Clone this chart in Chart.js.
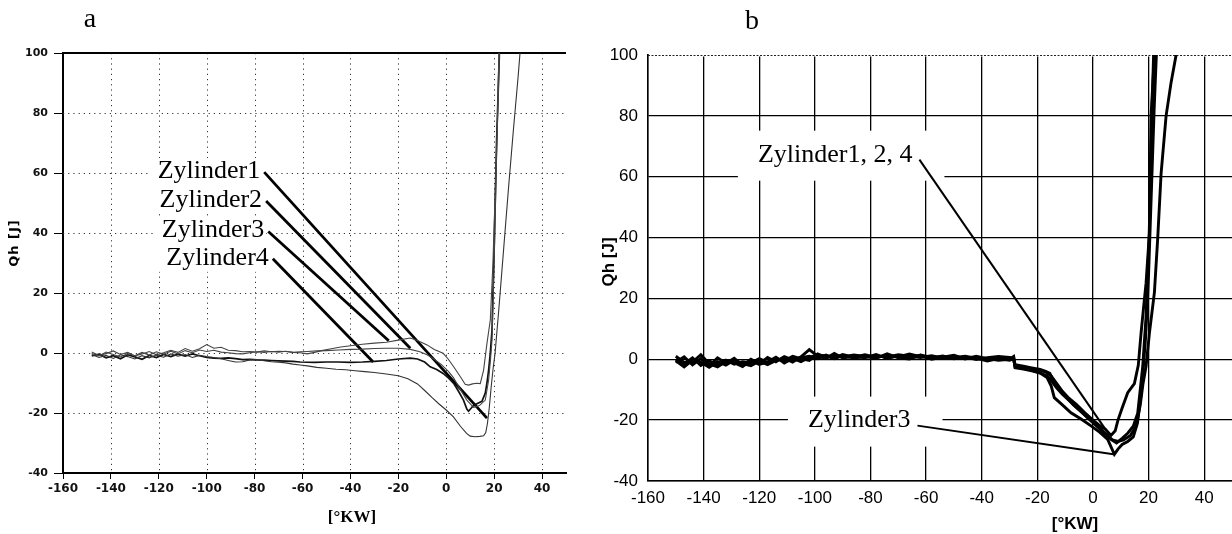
<!DOCTYPE html>
<html><head><meta charset="utf-8">
<script src="https://cdn.jsdelivr.net/npm/chart.js@4.4.0/dist/chart.umd.min.js"></script>
<style>
html,body{margin:0;padding:0;background:#fff;width:1232px;height:534px;overflow:hidden}
#ca{position:absolute;left:0;top:0}
#cb{position:absolute;left:600px;top:0}
</style></head><body>
<canvas id="ca" width="600" height="534"></canvas>
<canvas id="cb" width="632" height="534"></canvas>
<script>
// ---------- Panel a data ----------
const aXTicks = [-160,-140,-120,-100,-80,-60,-40,-20,0,20,40];
const aYTicks = [-40,-20,0,20,40,60,80,100];
const aPreX = [-148,-145,-142,-139,-136,-133,-130,-127,-124,-121,-118,-115,-112,-109,-106,-103,-100,-97,-94,-91,-88,-85,-82,-79,-76,-73,-70,-67,-64,-61];
const a1PreY = [-0.5,-1.5,-0.8,-1.8,-0.6,-1.2,-2,-0.9,-1.6,-0.7,-1.4,-0.3,-1.1,-0.5,-1.5,-0.8,-1.2,-1.5,-1.9,-2.5,-3,-2.9,-2.3,-2.2,-2.6,-2.9,-3.1,-3.3,-3.7,-4];
const a1PostX = [-58,-54,-50,-46,-42,-38,-34,-30,-25,-20,-16,-12,-9,-6,-3,0,3,6,8.5,10,12,14,15.6,16.5,17.2,18,18.8,19.6,20.4,22,24,26,28,30,30.8];
const a1PostY = [-4.3,-4.8,-5.1,-5.4,-5.6,-5.9,-6.2,-6.5,-7,-7.6,-8.6,-10.3,-12.5,-14.8,-17,-19,-21.3,-24.5,-26.8,-27.7,-27.9,-27.8,-27.6,-26.5,-23.5,-18,-11,-5,0,15,35,55,74,92,100];
const a2PreY = [-0.2,-1,0.3,-0.5,-1.3,-0.2,-0.9,0.2,-0.7,0.4,-0.4,0.6,-0.3,0.8,0.1,1,0.5,0.9,0.3,0.1,-0.2,-0.3,0.1,0.4,0.2,0.5,0.3,0.6,0.2,0.4];
const a2PostX = [-58,-54,-50,-45,-40,-35,-30,-25,-20,-15,-11,-8,-5,-2,1,3,6,8.6,11.4,13,14.2,16.3,17.7,18.5,19.1,20,21,22];
const a2PostY = [0.5,0.7,0.8,1,1.2,1.3,1.5,1.6,1.6,1.2,0.4,-0.6,-2.1,-3.9,-6.2,-8.2,-12.3,-15.7,-18.1,-17.8,-17.3,-15.7,-9,-2,4.3,30,65,100];
const a3PreY = [0.3,-0.8,-0.2,0.7,-0.5,0.2,-1,-0.3,0.5,-0.6,0.1,0.9,0.2,1.5,0.6,1.4,2.8,1.6,1.9,0.9,0.8,0.4,0.5,0.3,0.7,0.4,0.6,0.5,0.2,0.1];
const a3PostX = [-58,-55,-52,-48,-44,-40,-35,-30,-25,-20,-15,-12,-8,-5,-1.3,0.8,3.1,5.9,7.9,9.3,11,12.5,14.2,15.6,17,18.4,19.5,20.5,21.5,22.2];
const a3PostY = [-0.3,0.2,0.8,1.4,2,2.4,2.9,3.3,3.6,4.3,5,4.2,2.7,1.2,-0.1,-2,-4.6,-7.9,-10.4,-10.7,-10.3,-10.1,-10.2,-5.7,3.2,11,30,55,80,100];
const a4PreY = [-1,-0.4,-1.6,-0.9,-1.9,-0.6,-1.3,-2.1,-0.8,-1.5,-0.5,-1.2,-0.4,-1,-0.3,-0.9,-1.5,-1.7,-1.8,-1.6,-1.9,-2.2,-2.1,-2.3,-2.4,-2.5,-2.6,-2.7,-2.8,-3];
const a4PostX = [-55,-50,-45,-40,-35,-30,-25,-20,-15,-12,-9,-6.7,-4,-1.3,1,3.1,5,7.2,8.6,9.3,10.2,11.4,13,14.9,16.3,17,17.7,18.4,19.1,20,21,22.2];
const a4PostY = [-3.1,-3,-3,-3.1,-3,-2.8,-2.5,-2,-1.7,-2,-3,-4.6,-5.5,-6.8,-8.4,-10.1,-12.6,-15.7,-18.7,-19.4,-18.6,-17.5,-16.8,-16.1,-13.4,-10,-5.7,0,7.6,35,70,100];
const aCallLabels = ['Zylinder1','Zylinder2','Zylinder3','Zylinder4'];
const aCallX0 = [-76,-75.2,-74.3,-72.4];
const aCallY0 = [60.3,50.7,40.5,31.4];
const aCallX1 = [17,-15,-24,-30.5];
const aCallY1 = [-21.7,1.6,4.1,-3];

// ---------- Panel b data ----------
const bXTicks = [-160,-140,-120,-100,-80,-60,-40,-20,0,20,40];
const bYTicks = [-40,-20,0,20,40,60,80,100];
const bPreX = [-150,-147,-144,-141,-138,-135,-132,-129,-126,-123,-120,-117,-114,-111,-108,-105,-102,-99,-96,-93,-90,-86,-82,-78,-74,-70,-66,-62,-58,-54,-50,-46,-42,-38,-34,-30];
const b1PreY = [0,-1.5,0.5,-2,-0.5,-1.8,-0.3,-1.6,-0.8,-1.2,0.2,-1,0.3,-0.6,1,0.2,-0.4,1.8,0.6,1.2,0.8,1.4,0.9,1.1,0.7,1.5,1,0.6,1.2,0.4,0.9,0.3,0.6,-0.2,0.4,0.3];
const b1PostX = [-28.5,-28,-25,-22,-19,-17,-15,-13,-11,-9,-6,-3,0,2,4.5,6.5,8,9,10.5,12.5,14.9,16.3,17.3,18.2,19.1,20.3,20.9,22.1];
const b1PostY = [-0.2,-2.2,-2.6,-3.1,-3.6,-4.2,-5.5,-8,-10.5,-12.5,-14.8,-17.5,-20,-21.5,-23,-25,-23.5,-20,-16,-11,-8,-2,8.6,17,25,41.5,80,100];
const b2PreY = [-1,0.8,-1.8,0.2,-2.2,0.5,-1.3,0.3,-2,0,-1.5,0.6,-0.8,0.9,-0.2,0.5,1,0.2,1.4,0.5,1.6,0.7,1.5,0.6,1.3,0.8,1.7,0.9,0.5,1.1,0.2,0.8,-0.1,0.5,0.9,0.6];
const b2PostX = [-28.5,-28,-25,-22,-19,-16.5,-15,-13,-11,-8,-5,-2,1,4,6.5,8.5,10.5,12.5,14.5,16.1,17.9,19.1,20.2,21.2,21.8];
const b2PostY = [0.4,-2.8,-3.2,-3.8,-4.5,-5.5,-7,-9.5,-11.5,-14,-16.5,-19,-21.5,-24,-26.3,-27.5,-26,-24.3,-22,-17.7,-2.3,14,40,80,100];
const b3PreY = [1,-1,-0.9,1.5,-1.5,-2.5,-0.7,-1.1,-2.4,-0.4,-1.7,-0.9,0.7,-1.2,0.3,-0.8,0.6,1.4,1.1,0.2,1.2,0.4,0.9,0.3,1.8,0.5,0.1,1.4,0.6,0.3,0.5,1,0.4,-0.6,0.2,-0.3];
const b3PostX = [-28.5,-28,-25,-22,-19,-16.5,-15,-13.9,-11,-7.9,-4,-0.7,2.5,5.3,7.7,9,10.5,12.5,14.5,16,17.5,19,20,21,22,22.8];
const b3PostY = [0.1,-2.5,-3,-3.6,-4.5,-6,-8.8,-12.6,-15,-17.6,-19.8,-21.9,-24,-26.3,-31.2,-29.5,-28,-27,-25.5,-21,-10,8,28,55,82,100];
const b4PreY = [-0.5,-2.5,-0.3,-1,-2.6,-0.8,-1.9,-0.2,-1.4,-2.1,-0.6,-1.8,-0.4,0.4,-0.9,0.8,3.2,1,0.3,1.9,0.4,1,0.5,1.6,0.3,1.1,0.6,1.3,0,0.7,1.3,0.1,1,0.2,-0.3,0];
const b4PostX = [-28.5,-28,-25,-22,-19,-17,-15.5,-14,-12,-10,-7,-4,-1,2,5,7,9,11,13.5,15.5,17,18,19.1,20.3,22.1,23.3,24.5,26.3,28.1,29.9];
const b4PostY = [0.9,-1.8,-2.3,-2.8,-3.3,-4,-4.6,-7.5,-9.5,-12,-15,-17.5,-20,-22.5,-25,-26.5,-27,-26.5,-25,-22,-15,-8,-2.3,8.6,22,40,61,80,91,100];
const bCallLabels = ['Zylinder1, 2, 4','Zylinder3'];
const bCallX0 = [-62.4,-63.1];
const bCallY0 = [65.6,-21.8];
const bCallX1 = [6,8];
const bCallY1 = [-25,-31.3];

// ---------- helpers ----------
function pts(xs, ys){ return xs.map((x,i)=>({x:x, y:ys[i]})); }
function txt(ctx, s, x, y, font, align, rot){
  ctx.save(); ctx.translate(x,y); if(rot) ctx.rotate(rot);
  ctx.font = font; ctx.fillStyle = '#000'; ctx.textAlign = align || 'center'; ctx.textBaseline = 'middle';
  ctx.fillText(s,0,0); ctx.restore();
}
function callouts(X0,Y0,X1,Y1,w){
  return X0.map((x,i)=>({data:[{x:x,y:Y0[i]},{x:X1[i],y:Y1[i]}], borderColor:'#000', borderWidth:w, pointRadius:0}));
}
function setTicks(arr){ return s => { s.ticks = arr.map(v=>({value:v})); }; }

// ---------- Panel a ----------
const aPlugin = {
  id:'aPlug',
  beforeDatasetsDraw(chart){
    const ctx = chart.ctx, xs = chart.scales.x, ys = chart.scales.y, ca = chart.chartArea;
    ctx.save();
    ctx.strokeStyle = '#333'; ctx.lineWidth = 1; ctx.setLineDash([1.2,4]);
    aXTicks.forEach(v=>{ if(v===-160) return; const p = Math.round(xs.getPixelForValue(v))+0.5;
      ctx.beginPath(); ctx.moveTo(p, ca.top); ctx.lineTo(p, ca.bottom); ctx.stroke(); });
    aYTicks.forEach(v=>{ if(v===-40||v===100) return; const p = Math.round(ys.getPixelForValue(v))+0.5;
      ctx.beginPath(); ctx.moveTo(ca.left, p); ctx.lineTo(ca.right, p); ctx.stroke(); });
    ctx.setLineDash([]);
    ctx.strokeStyle = '#000'; ctx.lineWidth = 2;
    const t = ys.getPixelForValue(100);
    ctx.beginPath(); ctx.moveTo(ca.left, t); ctx.lineTo(ca.right, t); ctx.stroke();
    ctx.font = '26px "Liberation Serif"';
    aCallLabels.forEach((s,i)=>{
      const px = xs.getPixelForValue(aCallX0[i]), py = ys.getPixelForValue(aCallY0[i]);
      const w = ctx.measureText(s).width;
      ctx.fillStyle = '#fff'; ctx.fillRect(px-4-w-8, py-14, w+10, 27);
      txt(ctx, s, px-4, py-1, '26px "Liberation Serif"', 'right');
    });
    ctx.restore();
  },
  afterDraw(chart){
    const ctx = chart.ctx;
    txt(ctx, 'a', 90, 20, '28px "Liberation Serif"');
    txt(ctx, '[°KW]', 352, 518, 'bold 17px "Liberation Serif"');
    ctx.save(); ctx.letterSpacing = '1px';
    txt(ctx, 'Qh [J]', 15, 243, 'bold 13px "DejaVu Sans"', 'center', -Math.PI/2);
    ctx.restore();
  }
};
new Chart(document.getElementById('ca'), {
  type:'line',
  data:{ datasets:[
    {data:pts(aPreX.concat(a1PostX), a1PreY.concat(a1PostY)), borderColor:'#333', borderWidth:1.1},
    {data:pts(aPreX.concat(a2PostX), a2PreY.concat(a2PostY)), borderColor:'#444', borderWidth:1.1},
    {data:pts(aPreX.concat(a3PostX), a3PreY.concat(a3PostY)), borderColor:'#444', borderWidth:1.1},
    {data:pts(aPreX.concat(a4PostX), a4PreY.concat(a4PostY)), borderColor:'#111', borderWidth:1.7}
  ].concat(callouts(aCallX0,aCallY0,aCallX1,aCallY1,2.8)) },
  options:{
    responsive:false, animation:false, devicePixelRatio:1,
    layout:{padding:{top:53,right:34,left:0,bottom:0}},
    plugins:{legend:{display:false}, tooltip:{enabled:false}},
    elements:{point:{radius:0}, line:{tension:0}},
    scales:{
      x:{type:'linear', min:-160, max:50, afterBuildTicks:setTicks(aXTicks), afterFit:s=>{s.height=61;},
         ticks:{font:{family:'DejaVu Sans', weight:'bold', size:12}, color:'#111', padding:3, maxRotation:0, autoSkip:false},
         grid:{drawOnChartArea:false, drawTicks:true, tickLength:6, tickColor:'#000', tickWidth:1},
         border:{display:true, color:'#000', width:2}},
      y:{type:'linear', min:-40, max:100, afterBuildTicks:setTicks(aYTicks), afterFit:s=>{s.width=63;},
         ticks:{font:{family:'DejaVu Sans', weight:'bold', size:11}, color:'#111', padding:6, autoSkip:false},
         grid:{drawOnChartArea:false, drawTicks:true, tickLength:9, tickColor:'#000', tickWidth:1},
         border:{display:true, color:'#000', width:2}}
    }
  },
  plugins:[aPlugin]
});

// ---------- Panel b ----------
const bPlugin = {
  id:'bPlug',
  beforeDatasetsDraw(chart){
    const ctx = chart.ctx, xs = chart.scales.x, ys = chart.scales.y, ca = chart.chartArea;
    ctx.save();
    // dotted top border
    ctx.fillStyle = '#fff'; ctx.fillRect(ca.left+1, ca.top-1, ca.right-ca.left, 2.5);
    ctx.strokeStyle = '#222'; ctx.lineWidth = 1.2; ctx.setLineDash([2,1.5]);
    ctx.beginPath(); ctx.moveTo(ca.left, ca.top+0.5); ctx.lineTo(ca.right, ca.top+0.5); ctx.stroke();
    ctx.setLineDash([]);
    ctx.font = '26px "Liberation Serif"';
    bCallLabels.forEach((s,i)=>{
      const px = xs.getPixelForValue(bCallX0[i]), py = ys.getPixelForValue(bCallY0[i]);
      const w = ctx.measureText(s).width;
      ctx.fillStyle = '#fff'; ctx.fillRect(px-7-w-20, py-5-24, w+7+20+25, 50);
      txt(ctx, s, px-7, py-5, '26px "Liberation Serif"', 'right');
    });
    ctx.restore();
  },
  afterDraw(chart){
    const ctx = chart.ctx;
    txt(ctx, 'b', 152, 22, '28px "Liberation Serif"');
    txt(ctx, '[°KW]', 475, 524, 'bold 17px "Liberation Sans"');
    txt(ctx, 'Qh [J]', 9, 262, 'bold 17px "Liberation Sans"', 'center', -Math.PI/2);
  }
};
new Chart(document.getElementById('cb'), {
  type:'line',
  data:{ datasets:[
    {data:pts(bPreX.concat(b1PostX), b1PreY.concat(b1PostY)), borderColor:'#000', borderWidth:2.9},
    {data:pts(bPreX.concat(b2PostX), b2PreY.concat(b2PostY)), borderColor:'#000', borderWidth:2.9},
    {data:pts(bPreX.concat(b3PostX), b3PreY.concat(b3PostY)), borderColor:'#000', borderWidth:2.9},
    {data:pts(bPreX.concat(b4PostX), b4PreY.concat(b4PostY)), borderColor:'#000', borderWidth:2.9}
  ].concat(callouts(bCallX0,bCallY0,bCallX1,bCallY1,2)) },
  options:{
    responsive:false, animation:false, devicePixelRatio:1,
    layout:{padding:{top:55,right:0,left:0,bottom:0}},
    plugins:{legend:{display:false}, tooltip:{enabled:false}},
    elements:{point:{radius:0}, line:{tension:0}},
    scales:{
      x:{type:'linear', min:-160, max:50, afterBuildTicks:setTicks(bXTicks), afterFit:s=>{s.height=53;},
         ticks:{font:{family:'Liberation Sans', size:17}, color:'#000', padding:7, maxRotation:0, autoSkip:false},
         grid:{color:'#000', lineWidth:1.3, drawTicks:false},
         border:{display:true, color:'#000', width:1.5}},
      y:{type:'linear', min:-40, max:100, afterBuildTicks:setTicks(bYTicks), afterFit:s=>{s.width=48;},
         ticks:{font:{family:'Liberation Sans', size:17}, color:'#000', padding:10, autoSkip:false},
         grid:{color:'#000', lineWidth:1.3, drawTicks:false},
         border:{display:true, color:'#000', width:1.5}}
    }
  },
  plugins:[bPlugin]
});
</script>
</body></html>
